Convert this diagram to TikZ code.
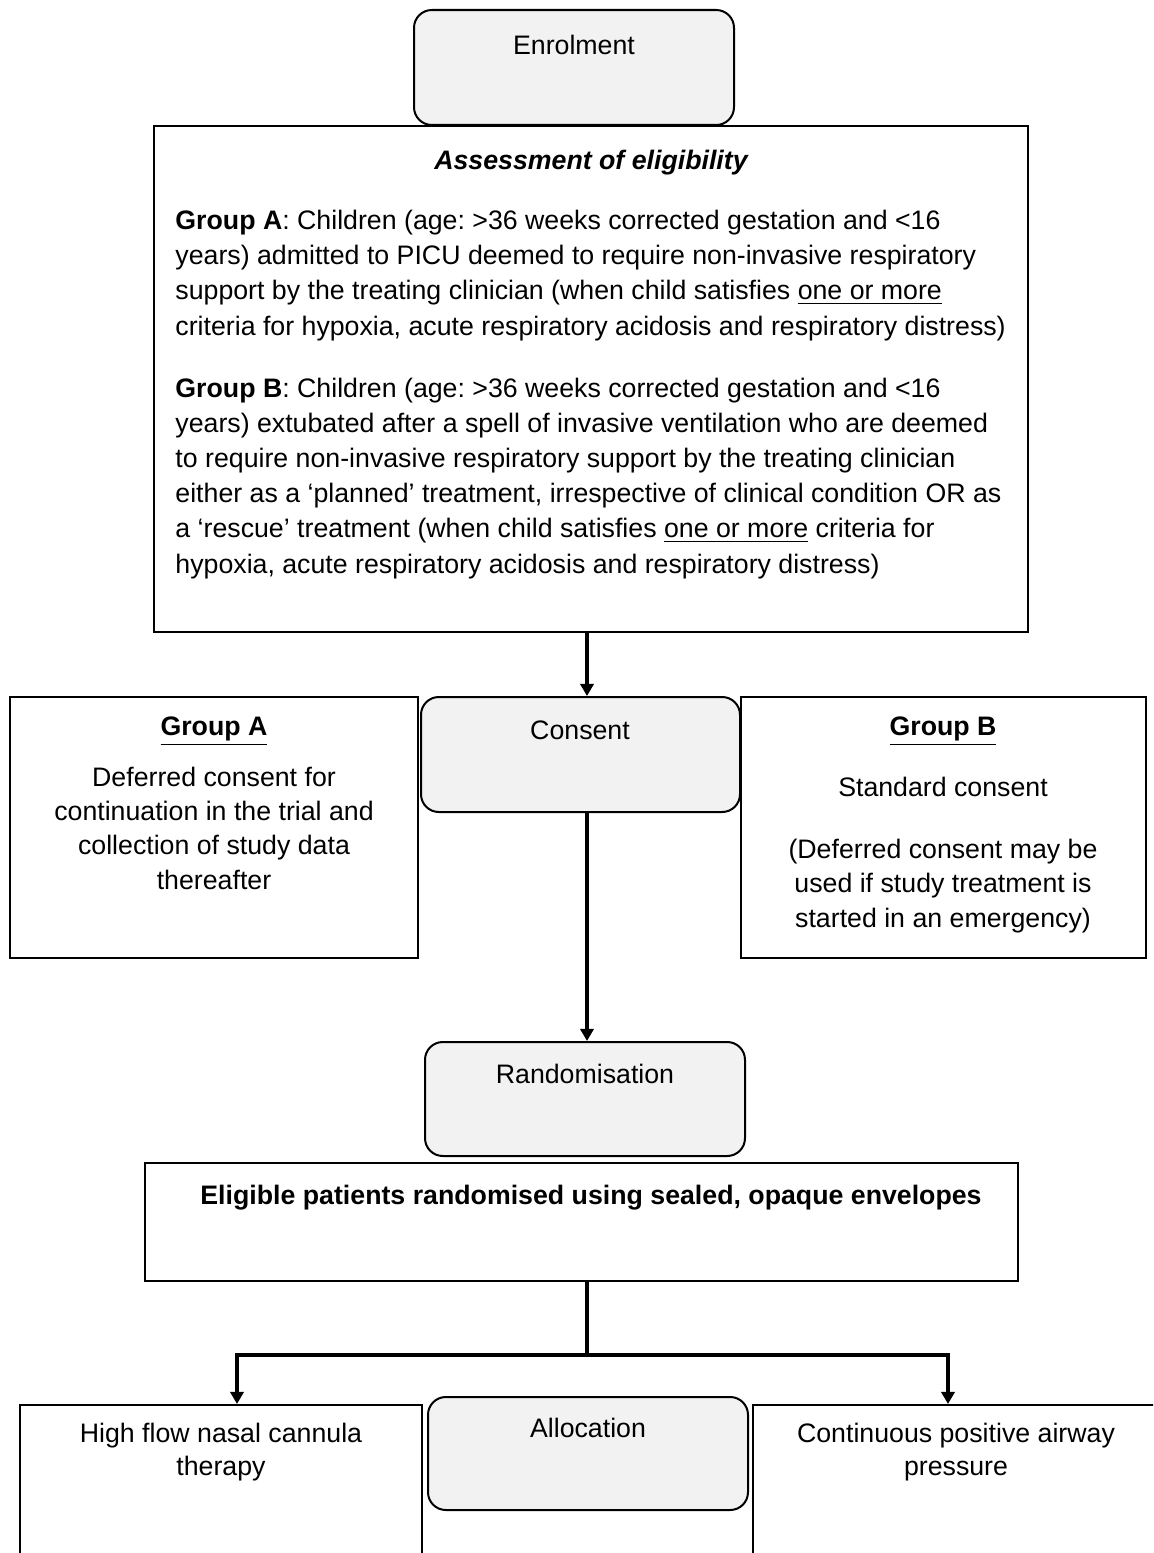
\documentclass[tikz,border=0pt]{standalone}
\usepackage{fontspec}
\setmainfont{Liberation Sans}
\usetikzlibrary{arrows.meta,fit,calc}
\frenchspacing

\definecolor{boxgray}{HTML}{F2F2F2}

\tikzset{
    plainbox/.style={draw, line width=0.9pt, inner sep=0pt},
    roundbox/.style={draw, line width=0.9pt, fill=boxgray, rounded corners=8pt, inner sep=0pt},
    flow/.style={line width=2pt, -{Triangle[width=6pt,length=5.5pt]}},
    txt/.style={inner sep=0pt, anchor=base, font=\fontsize{12}{15.8}\selectfont},
}

\begin{document}
\begin{tikzpicture}[x=0.449pt, y=-0.449pt]

    \useasboundingbox (0,0) rectangle (1153,1553);
    \clip (0,0) rectangle (1153,1553);

    \node[roundbox, fit={(414,10) (734,125)}] (enrol) {};
    \node[plainbox, fit={(154,126) (1028,632)}] (assess) {};
    \node[roundbox, fit={(421,697) (740,812)}] (consent) {};
    \node[plainbox, fit={(10,697) (418,958)}] (grpA) {};
    \node[plainbox, fit={(741,697) (1146,958)}] (grpB) {};
    \node[roundbox, fit={(425,1042) (745,1156)}] (rand) {};
    \node[plainbox, fit={(145,1163) (1018,1281)}] (elig) {};
    \node[plainbox, fit={(20,1405) (422,1620)}] (hfnc) {};
    \node[roundbox, fit={(428,1397) (748,1510)}] (alloc) {};
    \node[plainbox, fit={(753,1405) (1160,1620)}] (cpap) {};

    \node[txt] (enrolText) at (574,55) {Enrolment};
    \node[txt] (assessTitle) at (591,169) {\bfseries\itshape Assessment of eligibility};
    \node[txt, anchor=base west, align=left] (assessA) at (175,335) {\textbf{Group A}: Children (age: >36 weeks corrected gestation and <16\\
        years) admitted to PICU deemed to require non-invasive respiratory\\
        support by the treating clinician (when child satisfies \underline{one or more}\\
        criteria for hypoxia, acute respiratory acidosis and respiratory distress)};
    \node[txt, anchor=base west, align=left] (assessB) at (175,573) {\textbf{Group B}: Children (age: >36 weeks corrected gestation and <16\\
        years) extubated after a spell of invasive ventilation who are deemed\\
        to require non-invasive respiratory support by the treating clinician\\
        either as a ‘planned’ treatment, irrespective of clinical condition OR as\\
        a ‘rescue’ treatment (when child satisfies \underline{one or more} criteria for\\
        hypoxia, acute respiratory acidosis and respiratory distress)};

    \node[txt] (consentText) at (580,739) {Consent};
    \node[txt, align=center, font=\fontsize{12}{15.4}\selectfont] (grpAText) at (214,889) {\textbf{\underline{Group A}}\\[7.4pt]
        Deferred consent for\\ continuation in the trial and\\ collection of study data\\ thereafter};
    \node[txt, align=center, font=\fontsize{12}{15.4}\selectfont] (grpBText) at (943,927) {\textbf{\underline{Group B}}\\[11.9pt]
        Standard consent\\[12.3pt] (Deferred consent may be\\ used if study treatment is\\ started in an emergency)};

    \node[txt] (randText) at (585,1083) {Randomisation};
    \node[txt] (eligText) at (591,1204) {\bfseries Eligible patients randomised using sealed, opaque envelopes};

    \node[txt, align=center, font=\fontsize{12}{14.8}\selectfont] (hfncText) at (221,1475) {High flow nasal cannula\\ therapy};
    \node[txt] (allocText) at (588,1437) {Allocation};
    \node[txt, align=center, font=\fontsize{12}{14.8}\selectfont] (cpapText) at (956,1475) {Continuous positive airway\\ pressure};

    \coordinate (split) at (587,1355);
    \coordinate (leftTurn) at (237,1355);
    \coordinate (rightTurn) at (948,1355);

    \draw[flow] ($(assess.south)+(-4,0)$) -- ($(consent.north)+(6.5,0)$);
    \draw[flow] ($(consent.south)+(6.5,0)$) -- ($(rand.north)+(2,0)$);
    \draw[line width=2pt] ($(elig.south)+(5.5,0)$) -- (split);
    \draw[flow] (split) -| (leftTurn |- hfnc.north);
    \draw[flow] (split) -| (rightTurn |- cpap.north);

\end{tikzpicture}
\end{document}
